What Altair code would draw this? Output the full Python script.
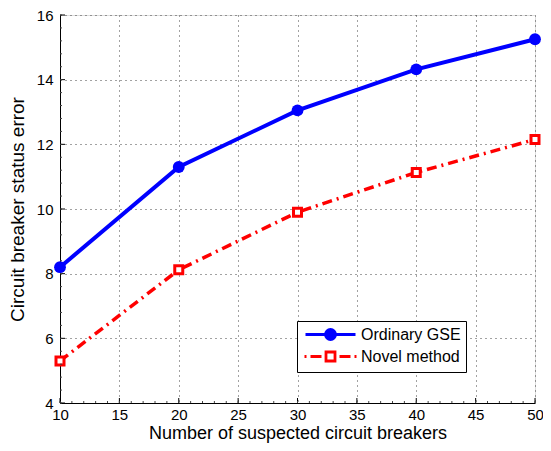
import altair as alt
import pandas as pd

# ---- data ----
x_vals = [10, 20, 30, 40, 50]
ordinary_gse = [8.2, 11.3, 13.05, 14.32, 15.25]
novel_method = [5.3, 8.12, 9.9, 11.13, 12.15]
series_names = ["Ordinary GSE", "Novel method"]
x_ticks = [10, 15, 20, 25, 30, 35, 40, 45, 50]
y_ticks = [4, 6, 8, 10, 12, 14, 16]
x_minor = list(range(10, 51))
y_minor = [4 + 0.4 * i for i in range(31)]

W, H = 475, 388

df = pd.DataFrame({
    "x": x_vals * 2,
    "y": ordinary_gse + novel_method,
    "series": [series_names[0]] * len(x_vals) + [series_names[1]] * len(x_vals),
})

FONT = "Liberation Sans"

xs = alt.Scale(domain=[10, 50], nice=False, zero=False)
ys = alt.Scale(domain=[4, 16], nice=False, zero=False)

xax = alt.Axis(values=x_ticks, grid=True, gridDash=[1, 4], gridColor="#444", gridWidth=1,
               ticks=False, labelPadding=4, labelFontSize=15, labelColor="black", labelFont=FONT,
               title="Number of suspected circuit breakers", titleFontSize=18, titleFont=FONT,
               titleFontWeight="normal", titleColor="black", titlePadding=2,
               domainColor="black", labelFlush=False)
yax = alt.Axis(values=y_ticks, grid=True, gridDash=[1, 4], gridColor="#444", gridWidth=1,
               ticks=False, labelPadding=7, labelFontSize=15, labelColor="black", labelFont=FONT,
               title="Circuit breaker status error", titleFontSize=19, titleFont=FONT,
               titleFontWeight="normal", titleColor="black", titlePadding=9,
               domainColor="black", labelFlush=False)

base = alt.Chart(df)

axes_layer = base.mark_point(opacity=0).encode(
    x=alt.X("x:Q", scale=xs, axis=xax),
    y=alt.Y("y:Q", scale=ys, axis=yax),
)

ord_df = base.transform_filter(alt.datum.series == series_names[0])
nov_df = base.transform_filter(alt.datum.series == series_names[1])

line_ord = ord_df.mark_line(color="#0000ff", strokeWidth=4).encode(
    x=alt.X("x:Q", scale=xs), y=alt.Y("y:Q", scale=ys))
pts_ord = ord_df.mark_point(shape="circle", filled=True, color="#0000ff", size=140, opacity=1).encode(
    x=alt.X("x:Q", scale=xs), y=alt.Y("y:Q", scale=ys))
line_nov = nov_df.mark_line(color="#ff0000", strokeWidth=3.5, strokeDash=[10, 5, 2, 5]).encode(
    x=alt.X("x:Q", scale=xs), y=alt.Y("y:Q", scale=ys))
pts_nov = nov_df.mark_point(shape="square", filled=True, fill="white", stroke="#ff0000",
                            strokeWidth=3, size=64, opacity=1).encode(
    x=alt.X("x:Q", scale=xs), y=alt.Y("y:Q", scale=ys))

# inward major / minor ticks
xt_df = pd.DataFrame({"t": x_ticks})
yt_df = pd.DataFrame({"t": y_ticks})
xm_df = pd.DataFrame({"t": x_minor})
ym_df = pd.DataFrame({"t": y_minor})
xt = alt.Chart(xt_df).mark_rule(color="black", strokeWidth=1).encode(
    x=alt.X("t:Q", scale=xs), y=alt.value(H), y2=alt.value(H - 5))
yt = alt.Chart(yt_df).mark_rule(color="black", strokeWidth=1).encode(
    y=alt.Y("t:Q", scale=ys), x=alt.value(0), x2=alt.value(5))
xm = alt.Chart(xm_df).mark_rule(color="#444", strokeWidth=1).encode(
    x=alt.X("t:Q", scale=xs), y=alt.value(H), y2=alt.value(H - 2))
ym = alt.Chart(ym_df).mark_rule(color="#444", strokeWidth=1).encode(
    y=alt.Y("t:Q", scale=ys), x=alt.value(0), x2=alt.value(2))

# legend symbols: custom paths (scale = sqrt(size)/2 = 7 px per unit)
u = 7.0
def p(v):
    return f"{v / u:.3f}"

blue_path = (f"M{p(-5)},0H{p(45)}"
             f"M{p(15)},0A{p(5)},{p(5)},0,1,1,{p(25)},0A{p(5)},{p(5)},0,1,1,{p(15)},0Z")
red_path = (f"M{p(-6)},0H{p(-4)}M{p(0)},0H{p(11)}M{p(29)},0H{p(40)}M{p(44)},0H{p(46)}"
            f"M{p(15.5)},{p(-4.5)}H{p(24.5)}V{p(4.5)}H{p(15.5)}Z")

def leg_params():
    return alt.Legend(title=None, orient="none", legendX=237, legendY=306,
                      padding=5, strokeColor="black", fillColor="white", cornerRadius=0,
                      symbolSize=196, symbolOpacity=1, symbolStrokeWidth=2.8,
                      labelFontSize=16, labelFont=FONT, labelColor="black", labelOffset=42,
                      rowPadding=0)

leg = base.mark_point(opacity=0, size=196).encode(
    x=alt.X("x:Q", scale=xs),
    y=alt.Y("y:Q", scale=ys),
    shape=alt.Shape("series:N", scale=alt.Scale(domain=series_names, range=[blue_path, red_path]),
                    legend=leg_params()),
    fill=alt.Fill("series:N", scale=alt.Scale(domain=series_names, range=["#0000ff", "white"]),
                  legend=leg_params()),
    stroke=alt.Stroke("series:N", scale=alt.Scale(domain=series_names, range=["#0000ff", "#ff0000"]),
                      legend=leg_params()),
)

chart = alt.layer(axes_layer, line_ord, line_nov, pts_ord, pts_nov, xt, yt, xm, ym, leg).properties(
    width=W, height=H,
    autosize=alt.AutoSizeParams(type="none"),
    padding={"left": 52, "top": 7, "right": 8, "bottom": 40},
).configure_view(stroke=None).configure(background="white")

chart.save("out.html", embed_options={"renderer": "svg", "actions": False})
